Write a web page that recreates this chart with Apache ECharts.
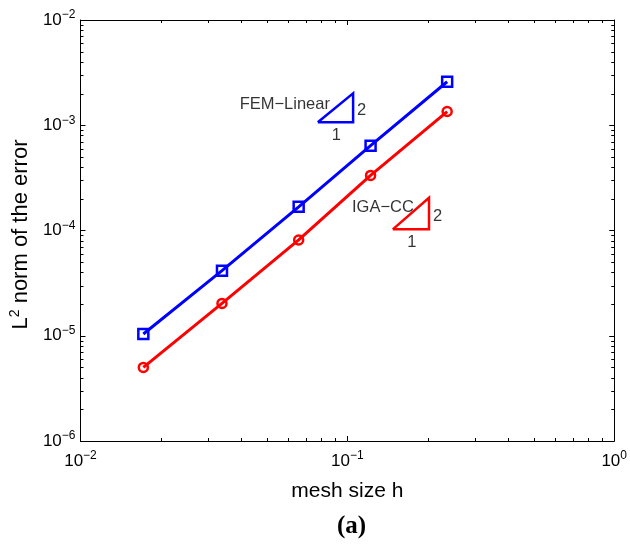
<!DOCTYPE html>
<html>
<head>
<meta charset="utf-8">
<script src="https://cdn.jsdelivr.net/npm/echarts@6/dist/echarts.min.js"></script>
<style>
  html, body { margin: 0; padding: 0; background: #fff; }
  #main { width: 630px; height: 545px; }
</style>
</head>
<body>
<div id="main"></div>
<script>
// mesh sizes and L2 errors
const meshSize = [0.0172, 0.0339, 0.0657, 0.1222, 0.2366]
const femLinear = [1.04e-5, 4.15e-5, 1.68e-4, 6.39e-4, 2.59e-3]
const igaCC = [5.0e-6, 2.03e-5, 8.13e-5, 3.34e-4, 1.35e-3]

// slope triangles: [x1, y1] lower-left corner, [x2, y2] upper-right corner
const femTriangle = [[0.0775, 1.067e-3], [0.1051, 2.012e-3]]
const igaTriangle = [[0.148, 1.026e-4], [0.2023, 2.05e-4]]

const xTicks = [0.01, 0.1, 1]
const yTicks = [1e-6, 1e-5, 1e-4, 1e-3, 1e-2]

const FONT = 'Liberation Sans, Arial, sans-serif'
const BLUE = '#0000ff'
const RED = '#ff0000'

function pow10Label (v) {
  let e = Math.round(Math.log10(v))
  return '10{sup|' + (e < 0 ? '\u2212' + (-e) : e) + '}'
}

const tickLabel = {
  color: '#000',
  fontFamily: FONT,
  fontSize: 17,
  formatter: pow10Label,
  rich: {
    sup: { fontSize: 12, fontFamily: FONT, color: '#000', padding: [0, 0, 10, 0] }
  }
}

function triangleSeries (tri, color) {
  let x1 = tri[0][0], y1 = tri[0][1], x2 = tri[1][0], y2 = tri[1][1]
  return {
    type: 'line',
    silent: true,
    symbol: 'none',
    animation: false,
    lineStyle: { color: color, width: 2.5, join: 'miter' },
    data: [[x1, y1], [x2, y1], [x2, y2], [x1, y1]]
  }
}

// name sits left of the hypotenuse, "2" right of the riser, "1" under the run
function triangleLabels (tri, name, nameDist, nameDy) {
  let x1 = tri[0][0], y1 = tri[0][1], x2 = tri[1][0], y2 = tri[1][1]
  let xm = Math.sqrt(x1 * x2), ym = Math.sqrt(y1 * y2)
  let base = { show: true, color: '#000', fontFamily: FONT, fontSize: 16.5 }
  return {
    type: 'scatter',
    silent: true,
    symbolSize: 0,
    animation: false,
    data: [
      { value: [xm, ym], label: Object.assign({}, base, { formatter: name, position: 'left', distance: nameDist, offset: [0, nameDy] }) },
      { value: [x2, ym], label: Object.assign({}, base, { formatter: '2', position: 'right', distance: 4, offset: [0, 3] }) },
      { value: [xm, y1], label: Object.assign({}, base, { formatter: '1', position: 'bottom', distance: 5, offset: [1, 0] }) }
    ]
  }
}

function axisCommon (min, max) {
  return {
    type: 'log',
    logBase: 10,
    min: min,
    max: max,
    splitLine: { show: false },
    axisLine: { show: true, onZero: false, lineStyle: { color: '#000', width: 1 } },
    axisTick: { show: true, inside: true, length: 5, lineStyle: { color: '#000', width: 1 } }
  }
}

let chartDom = document.getElementById('main')
let myChart = echarts.init(chartDom)

let option = {
  animation: false,
  backgroundColor: '#fff',
  title: {
    text: '(a)',
    left: 332,
    top: 509,
    textStyle: { fontFamily: 'Liberation Serif, Times New Roman, serif', fontWeight: 'bold', fontSize: 25, color: '#000' }
  },
  grid: { left: 78, right: 13, top: 20, bottom: 104 },
  xAxis: [
    Object.assign(axisCommon(0.01, 1), {
      position: 'bottom',
      axisLabel: Object.assign({ margin: 9 }, tickLabel),
      name: 'mesh size h',
      nameLocation: 'middle',
      nameGap: 40,
      nameTextStyle: { fontFamily: FONT, fontSize: 21, color: '#000' }
    }),
    Object.assign(axisCommon(0.01, 1), { position: 'top', axisLabel: { show: false } })
  ],
  yAxis: [
    Object.assign(axisCommon(1e-6, 1e-2), {
      position: 'left',
      axisLabel: Object.assign({ margin: 5 }, tickLabel),
      name: 'L{sup|2} norm of the error',
      nameLocation: 'middle',
      nameGap: 37,
      nameTextStyle: {
        fontFamily: FONT, fontSize: 22, color: '#000',
        padding: [0, 8, 0, 0],
        rich: { sup: { fontFamily: FONT, fontSize: 14, color: '#000', padding: [0, 0, 12, 0] } }
      }
    }),
    Object.assign(axisCommon(1e-6, 1e-2), { position: 'right', axisLabel: { show: false } })
  ],
  series: [
    {
      name: 'FEM-Linear',
      type: 'line',
      symbol: 'rect',
      symbolSize: 10,
      lineStyle: { color: BLUE, width: 3 },
      itemStyle: { color: 'rgba(0,0,0,0)', borderColor: BLUE, borderWidth: 2.5 },
      data: meshSize.map((h, i) => [h, femLinear[i]])
    },
    {
      name: 'IGA-CC',
      type: 'line',
      symbol: 'circle',
      symbolSize: 9,
      lineStyle: { color: RED, width: 3 },
      itemStyle: { color: 'rgba(0,0,0,0)', borderColor: RED, borderWidth: 2.5 },
      data: meshSize.map((h, i) => [h, igaCC[i]])
    },
    triangleSeries(femTriangle, BLUE),
    triangleSeries(igaTriangle, RED),
    triangleLabels(femTriangle, 'FEM\u2212Linear', 5.5, -3),
    triangleLabels(igaTriangle, 'IGA\u2212CC', -3, -6)
  ]
}

myChart.setOption(option)

// MATLAB-style minor ticks (2..9 per decade) on all four sides
function minorTicks () {
  let els = []
  let xLo = myChart.convertToPixel({ xAxisIndex: 0 }, xTicks[0])
  let xHi = myChart.convertToPixel({ xAxisIndex: 0 }, xTicks[xTicks.length - 1])
  let yLo = myChart.convertToPixel({ yAxisIndex: 0 }, yTicks[0])
  let yHi = myChart.convertToPixel({ yAxisIndex: 0 }, yTicks[yTicks.length - 1])
  let style = { stroke: '#000', lineWidth: 1 }
  for (let d = 0; d < xTicks.length - 1; d++) {
    for (let m = 2; m <= 9; m++) {
      let px = Math.round(myChart.convertToPixel({ xAxisIndex: 0 }, xTicks[d] * m)) + 0.5
      els.push({ type: 'line', silent: true, shape: { x1: px, y1: yLo, x2: px, y2: yLo - 3 }, style: style })
      els.push({ type: 'line', silent: true, shape: { x1: px, y1: yHi, x2: px, y2: yHi + 3 }, style: style })
    }
  }
  for (let d = 0; d < yTicks.length - 1; d++) {
    for (let m = 2; m <= 9; m++) {
      let py = Math.round(myChart.convertToPixel({ yAxisIndex: 0 }, yTicks[d] * m)) + 0.5
      els.push({ type: 'line', silent: true, shape: { x1: xLo, y1: py, x2: xLo + 3, y2: py }, style: style })
      els.push({ type: 'line', silent: true, shape: { x1: xHi, y1: py, x2: xHi - 3, y2: py }, style: style })
    }
  }
  return els
}

myChart.setOption({ graphic: minorTicks() })
window.addEventListener('resize', () => myChart.resize())
</script>
</body>
</html>
